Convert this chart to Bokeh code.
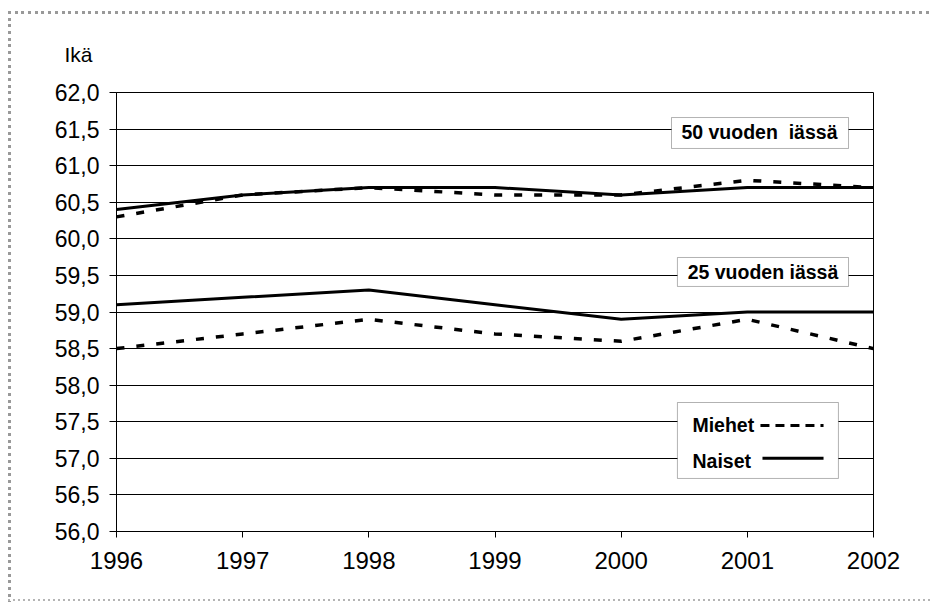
from bokeh.plotting import figure
from bokeh.models import (Range1d, FixedTicker, CustomJSTickFormatter, Label,
                          BoxAnnotation, Arrow, ColumnDataSource)
from bokeh.embed import file_html
from bokeh.resources import INLINE

# ---- data ----
years = [1996, 1997, 1998, 1999, 2000, 2001, 2002]
men_50 = [60.3, 60.6, 60.7, 60.6, 60.6, 60.8, 60.7]
women_50 = [60.4, 60.6, 60.7, 60.7, 60.6, 60.7, 60.7]
men_25 = [58.5, 58.7, 58.9, 58.7, 58.6, 58.9, 58.5]
women_25 = [59.1, 59.2, 59.3, 59.1, 58.9, 59.0, 59.0]
y_ticks = [56.0, 56.5, 57.0, 57.5, 58.0, 58.5, 59.0, 59.5, 60.0, 60.5, 61.0, 61.5, 62.0]
y_title = "Ikä"
box_50_text = "50 vuoden \u00a0iässä"
box_25_text = "25 vuoden iässä"
legend_men = "Miehet"
legend_women = "Naiset"

FONT = "Liberation Sans"

p = figure(width=932, height=603, output_backend="svg", toolbar_location=None,
           x_range=Range1d(1996, 2002), y_range=Range1d(56, 62),
           min_border_left=116, min_border_right=59, min_border_top=92,
           min_border_bottom=72)
p.background_fill_color = "white"
p.border_fill_color = None
p.outline_line_color = "black"
p.outline_line_width = 1

# dotted page border, painted as the figure element's CSS background
p.styles = {
    "background": (
        "repeating-linear-gradient(to bottom, #999999 0px 3px, transparent 3px 6.7px) "
        "7.5px 10.5px / 3px 591px no-repeat, "
        "repeating-linear-gradient(to right, #999999 0px 3px, transparent 3px 6.7px) "
        "7.5px 10.5px / 925px 3px no-repeat, "
        "repeating-linear-gradient(to right, #b4b4b4 0px 2px, transparent 2px 5px) "
        "7.5px 599px / 925px 2px no-repeat, white"
    )
}

# axes
p.xaxis.ticker = FixedTicker(ticks=years)
p.yaxis.ticker = FixedTicker(ticks=y_ticks)
p.yaxis.formatter = CustomJSTickFormatter(code="return tick.toFixed(1).replace('.', ',');")
for ax in (p.xaxis[0], p.yaxis[0]):
    ax.axis_line_color = "black"
    ax.axis_line_width = 1
    ax.major_tick_line_color = "black"
    ax.major_tick_in = 0
    ax.minor_tick_line_color = None
    ax.major_label_text_font = FONT
    ax.major_label_text_color = "black"
p.xaxis.major_tick_out = 6
p.yaxis.major_tick_out = 7
p.xaxis.major_label_text_font_size = "24px"
p.yaxis.major_label_text_font_size = "23px"
p.xaxis.major_label_standoff = 14
p.yaxis.major_label_standoff = 10

p.xgrid.grid_line_color = None
p.ygrid.grid_line_color = "black"
p.ygrid.grid_line_width = 1

src = ColumnDataSource(dict(x=years, m50=men_50, w50=women_50, m25=men_25, w25=women_25))
p.line("x", "w50", source=src, line_color="black", line_width=3)
p.line("x", "m50", source=src, line_color="black", line_width=3.5, line_dash="8 12")
p.line("x", "w25", source=src, line_color="black", line_width=3)
p.line("x", "m25", source=src, line_color="black", line_width=3.5, line_dash="8 12")

# y title (side panel so it is not clipped to the frame)
p.add_layout(Label(x=1995.699, y=62.52, text=y_title, text_font=FONT,
                   text_font_size="21px", text_align="center",
                   text_baseline="alphabetic", text_color="black"), "above")

# text boxes
p.add_layout(BoxAnnotation(left=2000.399, right=2001.802, top=61.658, bottom=61.235,
                           fill_color="white", fill_alpha=1, line_color="black",
                           line_width=1))
p.add_layout(Label(x=2001.096, y=61.46, text=box_50_text, text_font=FONT,
                   text_font_size="19.5px", text_font_style="bold",
                   text_align="center", text_baseline="middle", text_color="black"))
p.add_layout(BoxAnnotation(left=2000.446, right=2001.802, top=59.745, bottom=59.349,
                           fill_color="white", fill_alpha=1, line_color="black",
                           line_width=1))
p.add_layout(Label(x=2001.124, y=59.547, text=box_25_text, text_font=FONT,
                   text_font_size="19.5px", text_font_style="bold",
                   text_align="center", text_baseline="middle", text_color="black"))

# legend
p.add_layout(BoxAnnotation(left=2000.446, right=2001.722, top=57.763, bottom=56.725,
                           fill_color="white", fill_alpha=1, line_color="black",
                           line_width=1))
p.add_layout(Label(x=2000.565, y=57.449, text=legend_men, text_font=FONT,
                   text_font_size="19.5px", text_font_style="bold",
                   text_align="left", text_baseline="middle", text_color="black"))
p.add_layout(Label(x=2000.565, y=56.957, text=legend_women, text_font=FONT,
                   text_font_size="19.5px", text_font_style="bold",
                   text_align="left", text_baseline="middle", text_color="black"))
p.add_layout(Arrow(x_start=2001.104, y_start=57.449, x_end=2001.604, y_end=57.449,
                   start=None, end=None, line_color="black", line_width=3,
                   line_dash="9 6"))
p.add_layout(Arrow(x_start=2001.12, y_start=57.0, x_end=2001.604, y_end=57.0,
                   start=None, end=None, line_color="black", line_width=3))

open("out.html", "w").write(file_html(p, INLINE))
